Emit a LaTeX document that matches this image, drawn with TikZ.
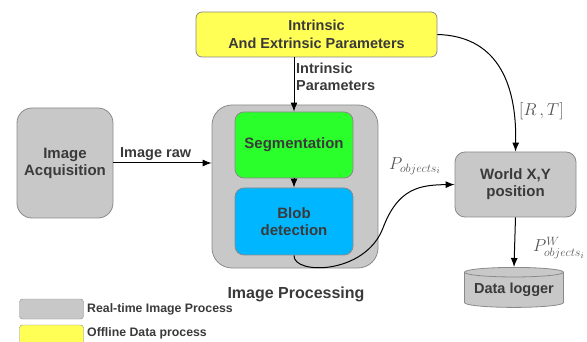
\documentclass[tikz,border=0pt]{standalone}
\usepackage{fontspec}
\setmainfont{Liberation Sans}
\usetikzlibrary{arrows.meta,shapes.geometric}
\definecolor{txt}{HTML}{3A3A3A}
\definecolor{boxgray}{HTML}{C8C8C8}
\definecolor{bordergray}{HTML}{8A8A8A}
\definecolor{yel}{HTML}{FFFF55}
\definecolor{grn}{HTML}{2BFF2B}
\definecolor{blu}{HTML}{00B7FF}
\definecolor{mathgray}{HTML}{555555}
\tikzset{
  box/.style={draw=bordergray, line width=0.8pt, text=txt, font=\bfseries\fontsize{15}{17}\selectfont, align=center, inner sep=0pt},
  arr/.style={-{Latex[length=9pt,width=7pt]}, line width=1pt, black},
  lbl/.style={text=txt, font=\bfseries\fontsize{14.5}{16.5}\selectfont, align=left, inner sep=0pt},
  mlbl/.style={text=mathgray, inner sep=0pt, font=\fontsize{18}{20}\selectfont}
}
\begin{document}
\begin{tikzpicture}[x=1pt,y=-1pt]
\useasboundingbox (0,0) rectangle (587,342);
% yellow
\node[box, fill=yel, rounded corners=6pt, minimum width=241pt, minimum height=45pt, font=\bfseries\fontsize{14.5}{18}\selectfont] (par) at (316.5,34.5) {Intrinsic\\And Extrinsic Parameters};
% image acquisition
\node[box, fill=boxgray, rounded corners=15pt, minimum width=96pt, minimum height=110pt] (acq) at (65,163) {Image\\Acquisition};
% image processing outer
\node[box, fill=boxgray, rounded corners=20pt, minimum width=166pt, minimum height=163pt] (proc) at (295,186.5) {};
\node[box, fill=grn, rounded corners=9pt, minimum width=118pt, minimum height=66pt] (seg) at (294,145) {Segmentation};
\node[box, fill=blu, rounded corners=9pt, minimum width=118pt, minimum height=67pt] (blob) at (294,221.5) {Blob\\detection};
% world
\node[box, fill=boxgray, rounded corners=10pt, minimum width=121pt, minimum height=65pt] (world) at (515.5,184.5) {World X,Y\\position};
% data logger
\node[box, fill=boxgray, cylinder, shape border rotate=90, aspect=0.12, minimum width=99pt, minimum height=40pt, font=\bfseries\fontsize{14.5}{16}\selectfont] (log) at (514,290) {Data logger};
% labels
\node[lbl, anchor=north west] (ip) at (296,63) {Intrinsic\\Parameters};
\node[lbl, anchor=south west] (raw) at (120,161) {Image raw};
\node[text=txt, font=\bfseries\fontsize{16}{18}\selectfont, inner sep=0pt] (iplab) at (296,294) {Image Processing};
% legend
\node[draw=bordergray, fill=boxgray, rounded corners=3pt, minimum width=64pt, minimum height=20pt, inner sep=0pt] (lg1) at (51.5,309) {};
\node[draw=bordergray, fill=yel, rounded corners=3pt, minimum width=64pt, minimum height=22pt, inner sep=0pt] (lg2) at (51.5,336) {};
\node[lbl, font=\bfseries\fontsize{12.3}{14}\selectfont, anchor=west] (lt1) at (87,309) {Real-time Image Process};
\node[lbl, font=\bfseries\fontsize{12.3}{14}\selectfont, anchor=west] (lt2) at (87,333) {Offline Data process};
% connectors
\draw[arr] (par.south -| seg.north) -- (seg.north);
\draw[arr] (seg) -- (blob);
\draw[arr] (acq.east) -- (proc.west |- acq.east);
\draw[arr] (par.east) .. controls (495,36) and (517,80) .. (world.north);
\draw[arr] (blob.south) .. controls (293,275) and (365,275) .. (383,228) .. controls (398,188) and (420,185) .. (world.west);
\draw[arr] (world.south) -- (log.north);
% math labels
\node[mlbl, anchor=west] (rt) at (519,111) {$[R\,,T]$};
\node[mlbl, anchor=west] (po) at (389,166) {$P_{objects_i}$};
\node[mlbl, anchor=west] (pw) at (533,248) {$P^{W}_{objects_i}$};
\end{tikzpicture}
\end{document}
